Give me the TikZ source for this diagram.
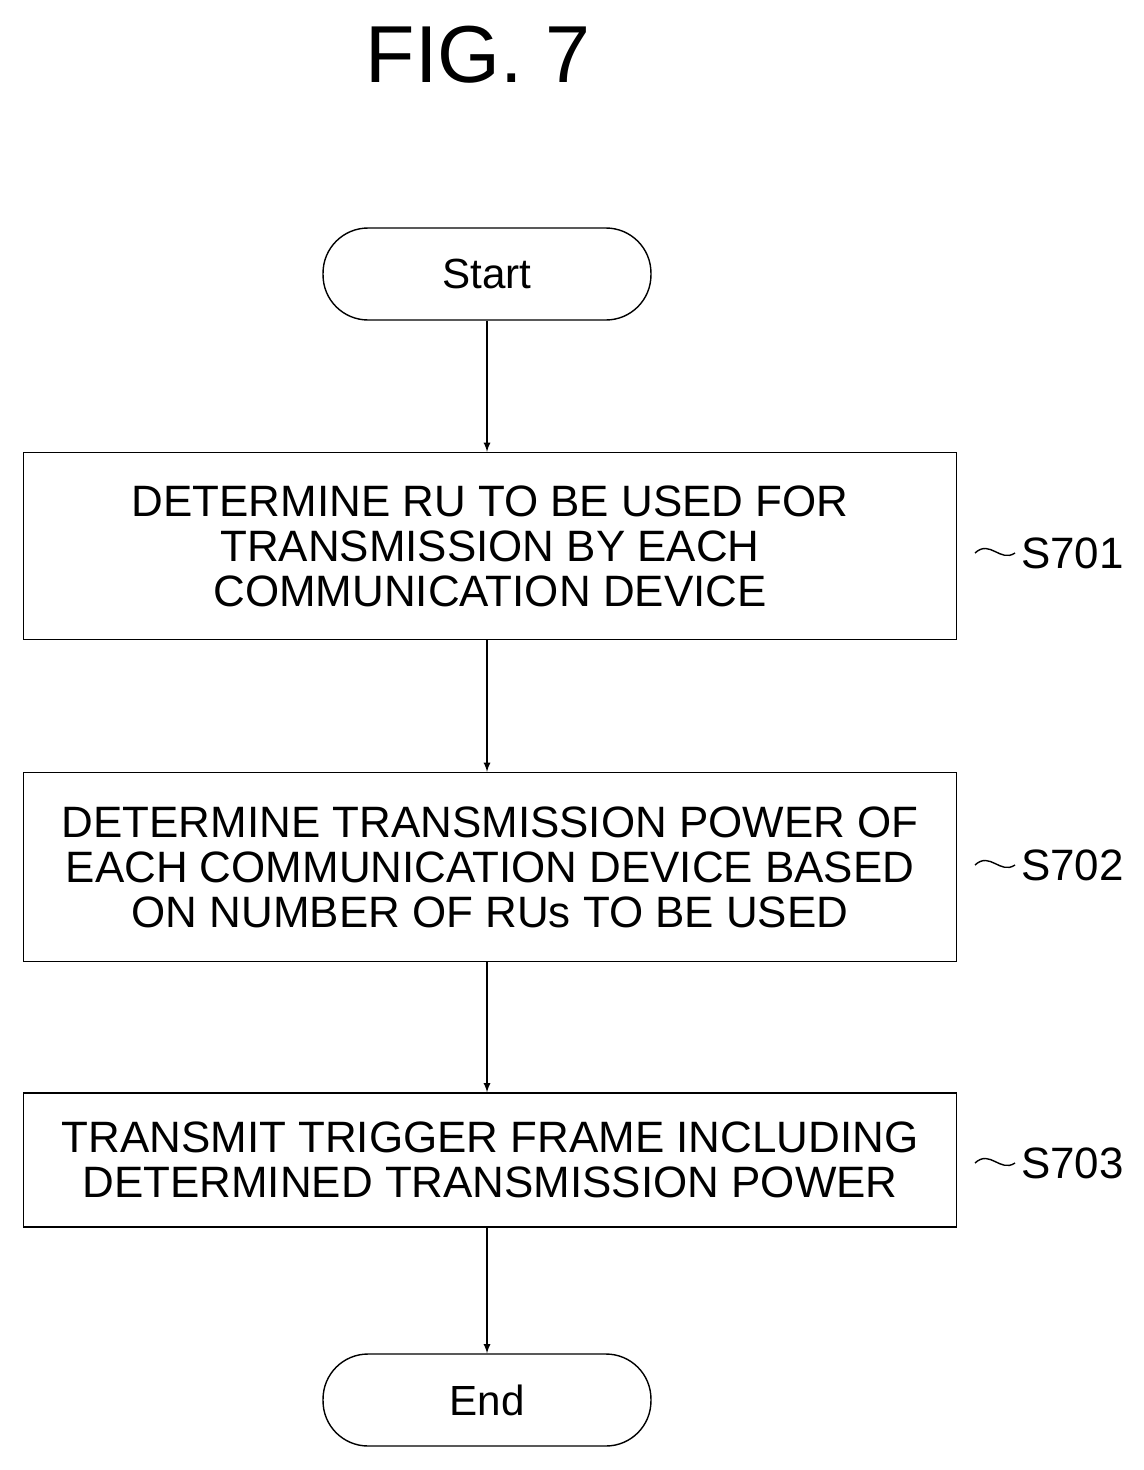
\documentclass[tikz,border=0pt]{standalone}
\usepackage{fontspec}
\setmainfont{Liberation Sans}
\usetikzlibrary{positioning}
\begin{document}
\begin{tikzpicture}[x=0.02cm, y=-0.02cm,
        % styles
        terminal/.style={draw, thick, rounded corners=0.9cm, minimum width=6.56cm, minimum height=1.84cm, font=\fontsize{24}{28}\selectfont},
        procbox/.style={draw, thick, minimum width=18.66cm, align=center, inner sep=0pt, font=\fontsize{25}{25.6}\selectfont},
        steplabel/.style={font=\fontsize{25}{30}\selectfont, anchor=west},
        flow/.style={-latex, thick}
    ]
    \useasboundingbox (0,0) rectangle (1143,1470);

    % title
    \node[font=\fontsize{46}{50}\selectfont] (title) at (478,55) {FIG. 7};

    % nodes
    \node[terminal] (start) at (487,274) {Start};
    \node[procbox, minimum height=3.74cm] (s701) at (490,546) {DETERMINE RU TO BE USED FOR\\TRANSMISSION BY EACH\\COMMUNICATION DEVICE};
    \node[procbox, minimum height=3.78cm] (s702) at (490,867) {DETERMINE TRANSMISSION POWER OF\\EACH COMMUNICATION DEVICE BASED\\ON NUMBER OF RUs TO BE USED};
    \node[procbox, minimum height=2.68cm] (s703) at (490,1160) {TRANSMIT TRIGGER FRAME INCLUDING\\DETERMINED TRANSMISSION POWER};
    \node[terminal] (end) at (487,1400) {End};

    % connectors
    \draw[flow] (start) -- (start |- s701.north);
    \draw[flow] (s701.south -| start) -- (start |- s702.north);
    \draw[flow] (s702.south -| start) -- (start |- s703.north);
    \draw[flow] (s703.south -| start) -- (end);

    % step labels
    \foreach \s/\y in {701/553, 702/865, 703/1163} {
        \node[steplabel] (lab\s) at (1015,\y) {S\s};
        \draw[thick] (975,\y) .. controls (990,\y-14) and (1000,\y+10) .. (lab\s.west);
    }
\end{tikzpicture}
\end{document}
